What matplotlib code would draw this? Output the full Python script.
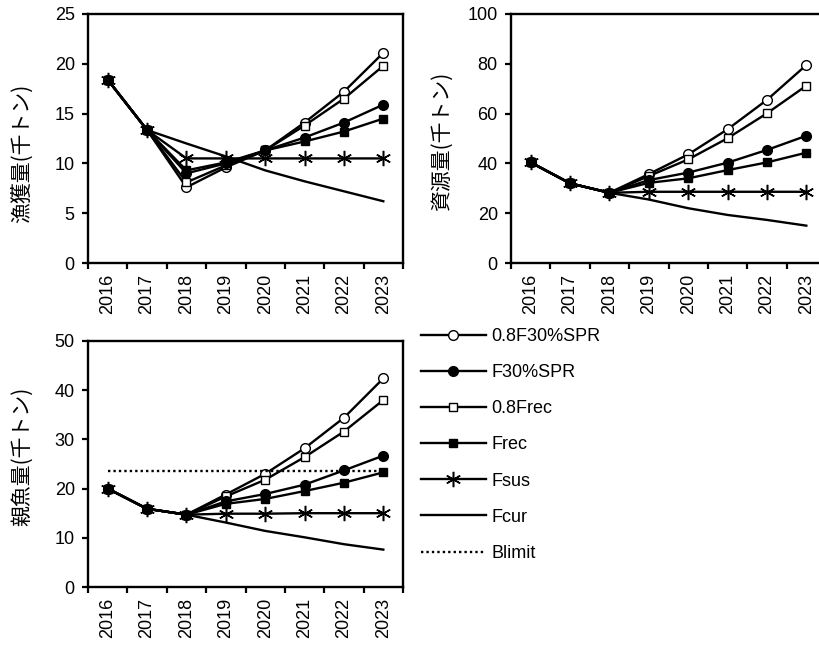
import matplotlib
matplotlib.use("Agg")
import matplotlib.pyplot as plt
from matplotlib.ticker import FixedLocator, NullFormatter, FixedFormatter

plt.rcParams['font.family'] = ['Liberation Sans', 'Noto Sans CJK JP']

# ---- data ----
years = [2016, 2017, 2018, 2019, 2020, 2021, 2022, 2023]
labels = ['0.8F30%SPR', 'F30%SPR', '0.8Frec', 'Frec', 'Fsus', 'Fcur']

# 漁獲量
c_08f30 = [18.4, 13.35, 7.6, 9.6, 11.3, 14.1, 17.2, 21.1]
c_f30 = [18.4, 13.35, 9.0, 10.0, 11.3, 12.6, 14.1, 15.9]
c_08frec = [18.4, 13.35, 8.1, 9.8, 11.3, 13.8, 16.5, 19.8]
c_frec = [18.4, 13.35, 9.3, 10.1, 11.3, 12.2, 13.2, 14.5]
c_fsus = [18.4, 13.35, 10.5, 10.5, 10.5, 10.5, 10.5, 10.5]
c_fcur = [18.4, 13.35, 12.0, 10.7, 9.3, 8.2, 7.2, 6.2]

# 資源量
b_08f30 = [40.4, 32.0, 28.2, 35.7, 43.6, 53.7, 65.5, 79.5]
b_f30 = [40.4, 32.0, 28.2, 33.3, 36.3, 40.3, 45.4, 51.1]
b_08frec = [40.4, 32.0, 28.2, 34.9, 41.6, 50.1, 60.1, 71.2]
b_frec = [40.4, 32.0, 28.2, 32.2, 34.0, 37.3, 40.4, 44.3]
b_fsus = [40.4, 32.0, 28.2, 28.6, 28.6, 28.6, 28.6, 28.6]
b_fcur = [40.4, 32.0, 28.2, 25.5, 22.0, 19.3, 17.3, 15.0]

# 親魚量
s_08f30 = [20.0, 15.9, 14.7, 18.8, 23.0, 28.2, 34.4, 42.4]
s_f30 = [20.0, 15.9, 14.7, 17.4, 18.9, 20.8, 23.7, 26.7]
s_08frec = [20.0, 15.9, 14.7, 18.4, 21.8, 26.4, 31.6, 38.0]
s_frec = [20.0, 15.9, 14.7, 16.9, 17.9, 19.5, 21.2, 23.3]
s_fsus = [20.0, 15.9, 14.7, 14.9, 14.9, 15.0, 15.0, 15.0]
s_fcur = [20.0, 15.9, 14.7, 13.1, 11.4, 10.1, 8.7, 7.6]
blimit = 23.5

# marker styles per scenario
styles = {
    '0.8F30%SPR': dict(marker='o', ms=7, mfc='white', mec='black', mew=1.0),
    'F30%SPR': dict(marker='o', ms=7, mfc='black', mec='black'),
    '0.8Frec': dict(marker='s', ms=6, mfc='white', mec='black', mew=1.0),
    'Frec': dict(marker='s', ms=6, mfc='black', mec='black'),
    'Fsus': dict(marker=(6, 2, 0), ms=11, mfc='black', mec='black', mew=1.1),
    'Fcur': dict(marker=None),
}
# filled square ends up on top where all series overlap (2016-2018)
draw_order = ['Fcur', 'Fsus', '0.8F30%SPR', '0.8Frec', 'F30%SPR', 'Frec']

W, H = 819, 646
fig = plt.figure(figsize=(W / 100, H / 100), dpi=100)


def px_axes(l, t, r, b):
    return fig.add_axes([l / W, 1 - b / H, (r - l) / W, (b - t) / H])


def panel(ax, series, ymax, ystep, ylabel, lab_xy):
    x = list(range(len(years)))
    for name in draw_order:
        ax.plot(x, series[name], color='black', lw=1.7, label=name,
                clip_on=False, **styles[name])
    ax.set_xlim(-0.5, len(years) - 0.5)
    ax.set_ylim(0, ymax)
    ax.xaxis.set_major_locator(FixedLocator([i - 0.5 for i in range(len(years) + 1)]))
    ax.xaxis.set_major_formatter(NullFormatter())
    ax.xaxis.set_minor_locator(FixedLocator(x))
    ax.xaxis.set_minor_formatter(FixedFormatter([str(y) for y in years]))
    ax.tick_params(axis='x', which='major', direction='out', length=4.5, width=1.6)
    ax.tick_params(axis='x', which='minor', length=0, labelsize=13,
                   labelrotation=90, pad=8)
    ax.set_yticks(range(0, ymax + 1, ystep))
    ax.tick_params(axis='y', direction='out', length=4.5, width=1.6,
                   labelsize=13, pad=5)
    for s in ax.spines.values():
        s.set_linewidth(1.7)
    ax.set_ylabel(ylabel, fontsize=15, family=['Noto Sans CJK JP'])
    ax.yaxis.set_label_coords(*lab_xy)


ax1 = px_axes(88, 14, 403, 263)
panel(ax1, {'0.8F30%SPR': c_08f30, 'F30%SPR': c_f30, '0.8Frec': c_08frec,
            'Frec': c_frec, 'Fsus': c_fsus, 'Fcur': c_fcur},
      25, 5, '漁獲量(千トン)', (-0.175, 0.44))

ax2 = px_axes(511, 14, 826, 263)
panel(ax2, {'0.8F30%SPR': b_08f30, 'F30%SPR': b_f30, '0.8Frec': b_08frec,
            'Frec': b_frec, 'Fsus': b_fsus, 'Fcur': b_fcur},
      100, 20, '資源量(千トン)', (-0.185, 0.49))

ax3 = px_axes(88, 341, 403, 587)
panel(ax3, {'0.8F30%SPR': s_08f30, 'F30%SPR': s_f30, '0.8Frec': s_08frec,
            'Frec': s_frec, 'Fsus': s_fsus, 'Fcur': s_fcur},
      50, 10, '親魚量(千トン)', (-0.175, 0.53))
ax3.plot([0, len(years) - 1], [blimit, blimit], color='black', lw=1.7,
         ls=(0, (1, 1.3)), label='Blimit')

handles, labs = ax3.get_legend_handles_labels()
hmap = dict(zip(labs, handles))
order = labels + ['Blimit']
fig.legend([hmap[k] for k in order], order, loc='upper left',
           bbox_to_anchor=(421 / W, 1 - 328 / H), frameon=False,
           fontsize=13, handlelength=3.6, handletextpad=0.3,
           labelspacing=1.06, borderaxespad=0, borderpad=0)

fig.savefig('out.png', dpi=100)
